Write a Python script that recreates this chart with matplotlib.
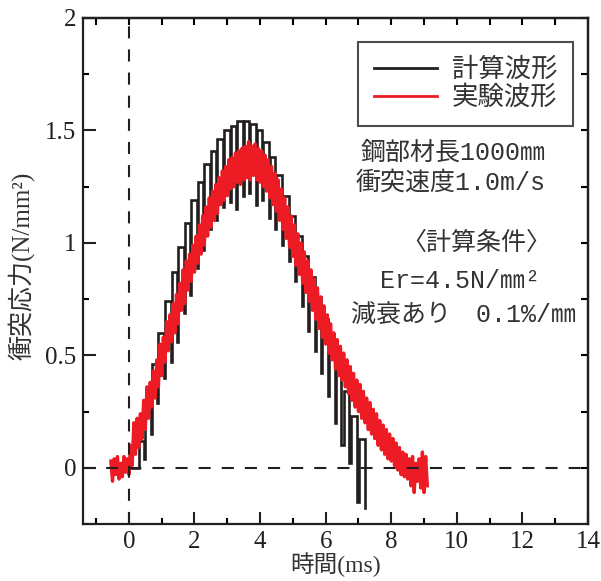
import matplotlib
matplotlib.use('Agg')
import matplotlib.pyplot as plt
from matplotlib.lines import Line2D

plt.rcParams['font.family'] = ['Liberation Serif', 'Noto Sans CJK JP']

# ---------------- data ----------------
# computed wave (black): staircase with downward spikes
step_t = [0.30, 0.50, 0.70, 0.90, 1.10, 1.30, 1.50, 1.70, 1.90, 2.10, 2.30, 2.50,
          2.70, 2.90, 3.10, 3.30, 3.50, 3.70, 3.90, 4.10, 4.30, 4.50, 4.70, 4.90,
          5.10, 5.30, 5.50, 5.70, 5.90, 6.10, 6.30, 6.55, 6.78, 7.02]
step_top = [0.12, 0.29, 0.46, 0.60, 0.74, 0.87, 0.98, 1.09, 1.19, 1.27, 1.35, 1.41,
            1.46, 1.50, 1.52, 1.54, 1.54, 1.53, 1.50, 1.45, 1.38, 1.30, 1.21, 1.12,
            1.03, 0.94, 0.85, 0.76, 0.66, 0.56, 0.45, 0.34, 0.23, 0.13]
drop_t = [0.47, 0.67, 0.87, 1.07, 1.27, 1.47, 1.67, 1.87, 2.07, 2.27, 2.47, 2.67,
          2.87, 3.07, 3.27, 3.47, 3.67, 3.87, 4.07, 4.27, 4.47, 4.67, 4.87, 5.07,
          5.27, 5.47, 5.67, 5.87, 6.07, 6.27, 6.47, 6.72, 6.95, 7.20]
drop_low = [0.04, 0.15, 0.29, 0.40, 0.47, 0.56, 0.69, 0.77, 0.89, 0.97, 1.06, 1.10,
            1.16, 1.18, 1.15, 1.21, 1.22, 1.17, 1.19, 1.11, 1.06, 0.99, 0.92, 0.83,
            0.72, 0.61, 0.52, 0.42, 0.32, 0.20, 0.10, 0.02, -0.15, -0.18]

# experimental wave (red)
red_t = [-0.55, -0.50, -0.45, -0.40, -0.35, -0.30, -0.25, -0.20, -0.15, -0.10, -0.05,
         0.00, 0.05, 0.10, 0.15, 0.20, 0.25, 0.30, 0.35, 0.40, 0.45, 0.50, 0.55, 0.60,
         0.65, 0.70, 0.75, 0.80, 0.85, 0.90, 0.95, 1.00, 1.05, 1.10, 1.15, 1.20, 1.25,
         1.30, 1.35, 1.40, 1.45, 1.50, 1.55, 1.60, 1.65, 1.70, 1.75, 1.80, 1.85, 1.90,
         1.95, 2.00, 2.05, 2.10, 2.15, 2.20, 2.25, 2.30, 2.35, 2.40, 2.45, 2.50, 2.55,
         2.60, 2.65, 2.70, 2.75, 2.80, 2.85, 2.90, 2.95, 3.00, 3.05, 3.10, 3.15, 3.20,
         3.25, 3.30, 3.35, 3.40, 3.45, 3.50, 3.55, 3.60, 3.65, 3.70, 3.75, 3.80, 3.85,
         3.90, 3.95, 4.00, 4.05, 4.10, 4.15, 4.20, 4.25, 4.30, 4.35, 4.40, 4.45, 4.50,
         4.55, 4.60, 4.65, 4.70, 4.75, 4.80, 4.85, 4.90, 4.95, 5.00, 5.05, 5.10, 5.15,
         5.20, 5.25, 5.30, 5.35, 5.40, 5.45, 5.50, 5.55, 5.60, 5.65, 5.70, 5.75, 5.80,
         5.85, 5.90, 5.95, 6.00, 6.05, 6.10, 6.15, 6.20, 6.25, 6.30, 6.35, 6.40, 6.45,
         6.50, 6.55, 6.60, 6.65, 6.70, 6.75, 6.80, 6.85, 6.90, 6.95, 7.00, 7.05, 7.10,
         7.15, 7.20, 7.25, 7.30, 7.35, 7.40, 7.45, 7.50, 7.55, 7.60, 7.65, 7.70, 7.75,
         7.80, 7.85, 7.90, 7.95, 8.00, 8.05, 8.10, 8.15, 8.20, 8.25, 8.30, 8.35, 8.40,
         8.45, 8.50, 8.55, 8.60, 8.65, 8.70, 8.75, 8.80, 8.85, 8.90, 8.95, 9.00, 9.05,
         9.10]
red_v = [0.03, -0.06, 0.04, -0.03, 0.05, -0.05, 0.02, -0.04, 0.05, -0.02, 0.04,
         -0.03, 0.10, 0.01, 0.20, 0.06, 0.22, 0.09, 0.24, 0.13, 0.30, 0.17, 0.36, 0.22,
         0.38, 0.27, 0.43, 0.31, 0.48, 0.36, 0.55, 0.41, 0.58, 0.47, 0.65, 0.52, 0.68,
         0.56, 0.73, 0.60, 0.77, 0.64, 0.82, 0.70, 0.88, 0.73, 0.92, 0.79, 0.95, 0.83,
         0.99, 0.87, 1.03, 0.91, 1.08, 0.95, 1.12, 0.99, 1.16, 1.03, 1.20, 1.07, 1.23,
         1.10, 1.26, 1.13, 1.29, 1.17, 1.32, 1.19, 1.34, 1.21, 1.37, 1.24, 1.38, 1.25,
         1.40, 1.27, 1.41, 1.26, 1.42, 1.28, 1.43, 1.29, 1.45, 1.28, 1.43, 1.30, 1.44,
         1.28, 1.42, 1.27, 1.41, 1.25, 1.39, 1.23, 1.37, 1.20, 1.34, 1.17, 1.31, 1.14,
         1.28, 1.10, 1.24, 1.06, 1.20, 1.02, 1.16, 0.98, 1.12, 0.94, 1.08, 0.90, 1.04,
         0.86, 1.00, 0.82, 0.96, 0.78, 0.92, 0.74, 0.88, 0.70, 0.84, 0.66, 0.80, 0.62,
         0.76, 0.58, 0.72, 0.55, 0.68, 0.51, 0.64, 0.48, 0.60, 0.44, 0.57, 0.41, 0.54,
         0.39, 0.51, 0.36, 0.48, 0.33, 0.45, 0.30, 0.42, 0.27, 0.39, 0.25, 0.37, 0.22,
         0.34, 0.20, 0.31, 0.17, 0.29, 0.15, 0.26, 0.13, 0.24, 0.10, 0.21, 0.08, 0.19,
         0.06, 0.17, 0.04, 0.15, 0.03, 0.13, 0.01, 0.11, -0.01, 0.09, -0.03, 0.07, -0.04,
         0.06, -0.05, 0.04, -0.08, 0.05, -0.11, 0.02, -0.06, 0.04, -0.09, 0.07, -0.11, 0.05,
         -0.08]

legend_labels = ['計算波形', '実験波形']
x_ticks = [0, 2, 4, 6, 8, 10, 12, 14]
y_ticks = [0, 0.5, 1, 1.5, 2]
y_ticklabels = ['0', '0.5', '1', '1.5', '2']

# ---------------- figure ----------------
fig = plt.figure(figsize=(6.01, 5.81), dpi=100)
ax = fig.add_axes([83 / 601, 1 - 524 / 581, (588 - 83) / 601, (524 - 18) / 581])

# build staircase polyline from the step table
bx, by = [0.0], [0.0]
prev = 0.0
for t, top, td, low in zip(step_t, step_top, drop_t, drop_low):
    bx += [t, t, td, td]
    by += [prev, top, top, low]
    prev = low

black = '#231f20'
red = '#ed1c24'
ax.plot(bx, by, color=black, lw=1.9, zorder=2, solid_joinstyle='miter')
ax.plot(red_t, red_v, color=red, lw=2.4, zorder=3)

dash = (0, (5.8, 5.3))
ax.axhline(0, color=black, lw=1.5, ls=dash, zorder=4)
ax.axvline(0, color=black, lw=1.5, ls=dash, zorder=4)

ax.set_xlim(-1.4, 14)
ax.set_ylim(-0.2, 2)
ax.set_xticks(x_ticks)
ax.set_xticklabels([str(v) for v in x_ticks])
ax.set_yticks(y_ticks)
ax.set_yticklabels(y_ticklabels)
ax.set_xticks([-1, 1, 3, 5, 7, 9, 11, 13], minor=True)
ax.set_yticks([-0.25, 0.25, 0.75, 1.25, 1.75], minor=True)
ax.tick_params(which='major', direction='in', length=9, width=1.5, labelsize=18,
               pad=5, colors=black)
ax.tick_params(which='minor', direction='in', length=4.5, width=1.5)
for s in ax.spines.values():
    s.set_linewidth(1.6)
    s.set_color(black)

secx = ax.secondary_xaxis('top')
secx.set_xticks(list(range(-1, 15)))
secx.tick_params(direction='in', length=5, width=1.5, labeltop=False)
secx.spines['top'].set_linewidth(1.6)
secy = ax.secondary_yaxis('right')
secy.set_yticks([0, 0.25, 0.5, 0.75, 1.0, 1.25, 1.5, 1.75, 2.0])
secy.tick_params(direction='in', length=5, width=1.5, labelright=False)
secy.spines['right'].set_linewidth(1.6)

ax.set_xlabel('時間(ms)', fontsize=17, color='#333333', va='center')
ax.xaxis.set_label_coords(0.5, -0.080)
ax.set_ylabel('衝突応力(N/mm²)', fontsize=18, color='#333333', va='center')
ax.yaxis.set_label_coords(-0.122, 0.51)

handles = [Line2D([], [], color=black, lw=2), Line2D([], [], color=red, lw=2)]
leg = ax.legend(handles, legend_labels, loc='upper right',
                bbox_to_anchor=(0.970, 0.953), fontsize=19, frameon=True,
                fancybox=False, edgecolor=black, handlelength=2.4,
                handletextpad=0.55, borderpad=0.6, labelspacing=0.12,
                borderaxespad=0)
leg.get_frame().set_linewidth(1.5)
for txt in leg.get_texts():
    txt.set_color('#333333')

ann_font = ['Liberation Mono', 'Noto Sans CJK JP']
tkw = dict(fontsize=18, color='#333333', ha='center', va='center', family=ann_font)
ax.text(9.9, 1.40, '鋼部材長1000㎜', **tkw)
ax.text(9.8, 1.27, '衝突速度1.0m/s', **tkw)
ax.text(10.6, 1.00, '〈計算条件〉', **tkw)
ax.text(10.1, 0.83, 'Er=4.5N/㎜²', **tkw)
ax.text(10.2, 0.675, '減衰あり　0.1%/㎜', **tkw)

fig.savefig('out.png', dpi=100)
